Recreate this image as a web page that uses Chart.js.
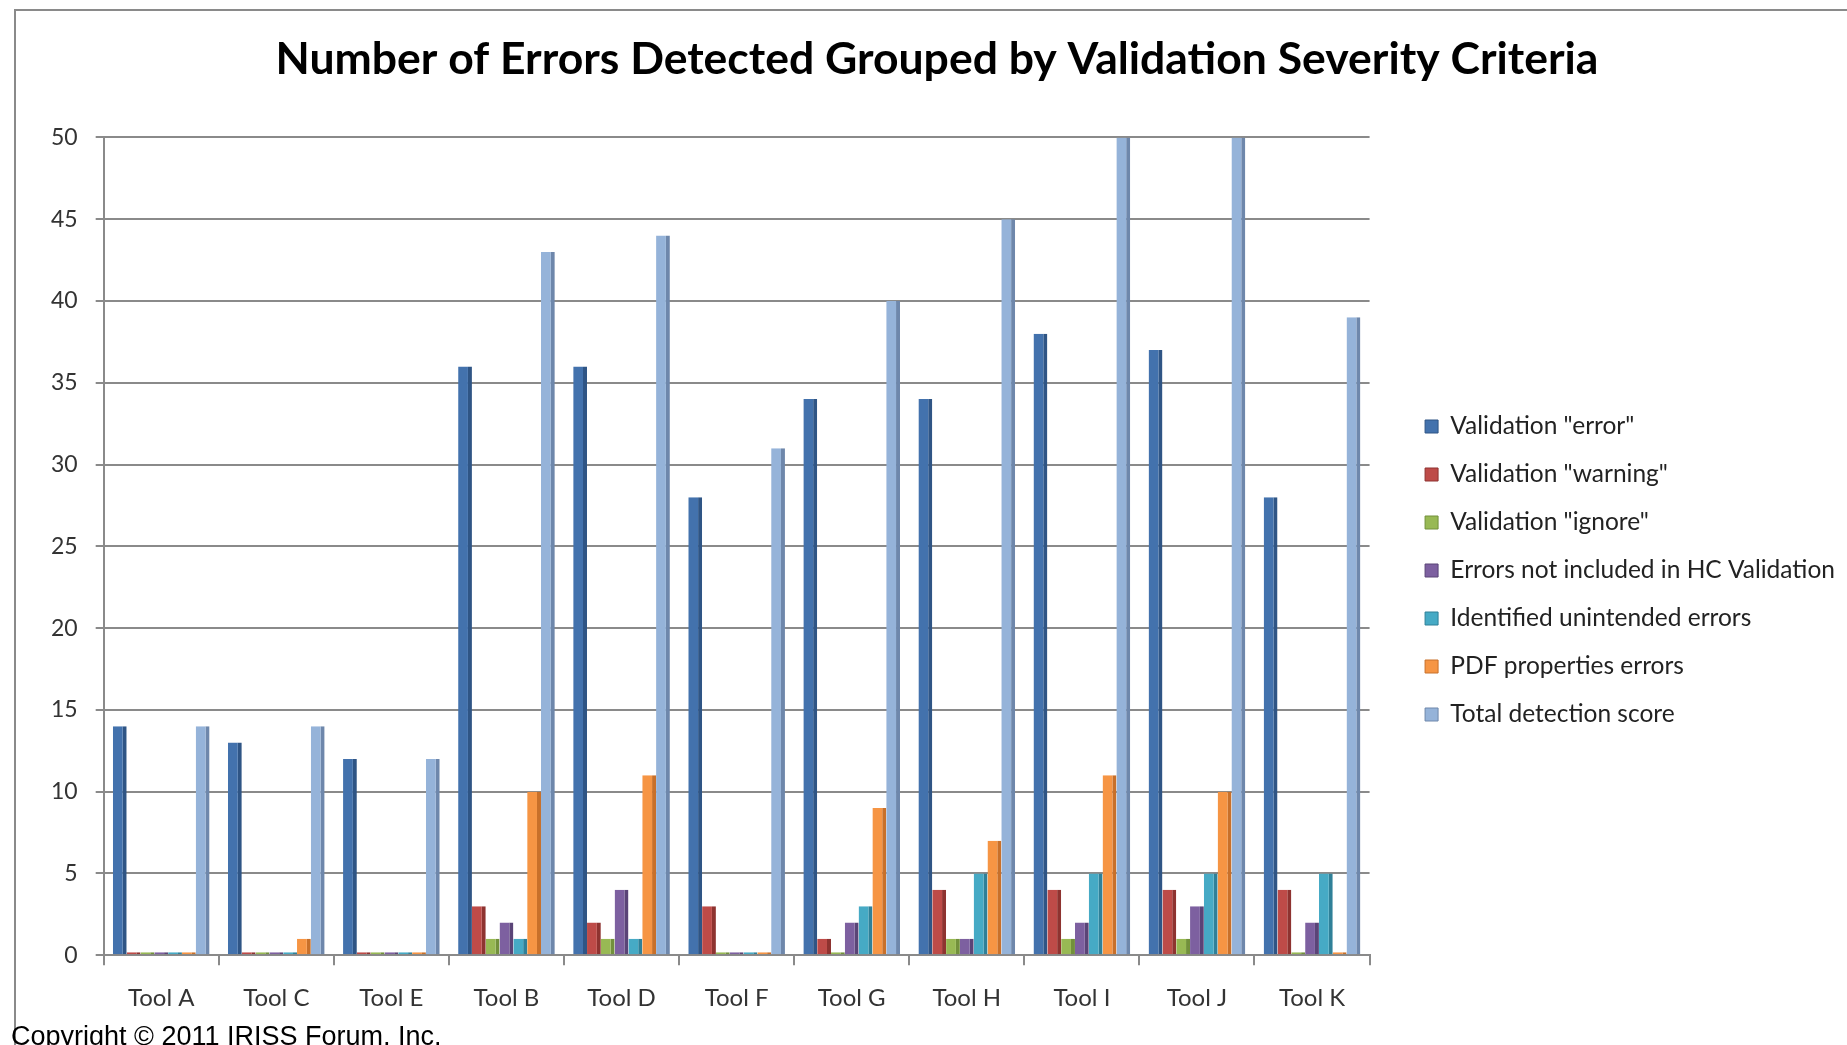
<!DOCTYPE html>
<html>
    <head>
        <meta charset="utf-8">
        <script src="https://cdn.jsdelivr.net/npm/chart.js@4.4.1/dist/chart.umd.min.js"></script>
        <title>Errors by validation severity</title>
        <style>
            body { margin:0; background:#fff; width:1847px; height:1045px; overflow:hidden; }
            #frame { position:absolute; left:14px; top:9px; width:1840px; height:1040px;
                     border-left:2px solid #8a8a8a; border-top:2px solid #8a8a8a; }
            #chart_container { position:absolute; left:0; top:0; width:1831px; height:1034px; }
            #copyright { position:absolute; left:11px; top:1023px; font-family:"Liberation Sans", Arial, sans-serif;
                         font-size:27px; line-height:27px; color:#000; white-space:nowrap; }
        </style>
    </head>
    <body>
        <div id="frame">
            <div id="chart_container">
                <canvas id="errors_chart"></canvas>
            </div>
        </div>
        <div id="copyright">Copyright © 2011 IRISS Forum, Inc.</div>

        <script type="text/javascript">
            var tools = ["Tool A", "Tool C", "Tool E", "Tool B", "Tool D", "Tool F", "Tool G", "Tool H", "Tool I", "Tool J", "Tool K"];
            var validationError   = [14, 13, 12, 36, 36, 28, 34, 34, 38, 37, 28];
            var validationWarning = [0, 0, 0, 3, 2, 3, 1, 4, 4, 4, 4];
            var validationIgnore  = [0, 0, 0, 1, 1, 0, 0, 1, 1, 1, 0];
            var notInHC           = [0, 0, 0, 2, 4, 0, 2, 1, 2, 3, 2];
            var unintendedErrors  = [0, 0, 0, 1, 1, 0, 3, 5, 5, 5, 5];
            var pdfPropErrors     = [0, 1, 0, 10, 11, 0, 9, 7, 11, 10, 0];
            var totalScore        = [14, 14, 12, 43, 44, 31, 40, 45, 50, 50, 39];
            var yTicks = [0, 5, 10, 15, 20, 25, 30, 35, 40, 45, 50];

            // front colour + darker side colour (fake 3d edge)
            function series(label, data, color, side){
                return {
                    label: label,
                    data: data,
                    backgroundColor: color,
                    borderColor: side,
                    borderWidth: { top: 0, left: 0, bottom: 0, right: 4 },
                    borderSkipped: false,
                    minBarLength: 3,
                    categoryPercentage: 0.84,
                    barPercentage: 1.0
                };
            }

            // push the legend and title a bit, like the original
            var layoutNudge = {
                id: "layoutNudge",
                afterLayout: function(chart){
                    var l = chart.legend;
                    l.left += 32; l.right += 32;
                    l.top += 49; l.bottom += 49;
                    var t = chart.titleBlock;
                    t.left += 14; t.right += 14;
                }
            };

            var ctx = document.getElementById("errors_chart");
            var errors_chart = new Chart(ctx, {
                type: "bar",
                data: {
                    labels: tools,
                    datasets: [
                        series('Validation "error"', validationError, "#4372ad", "#2f5585"),
                        series('Validation "warning"', validationWarning, "#be4b48", "#8e3330"),
                        series('Validation "ignore"', validationIgnore, "#98b954", "#72903b"),
                        series("Errors not included in HC Validation", notInHC, "#7d60a0", "#5a4477"),
                        series("Identified unintended errors", unintendedErrors, "#46aac5", "#2f8098"),
                        series("PDF properties errors", pdfPropErrors, "#f69544", "#c8702a"),
                        series("Total detection score", totalScore, "#95b3d9", "#6e87ab")
                    ]
                },
                plugins: [layoutNudge],
                options: {
                    responsive: true,
                    maintainAspectRatio: false,
                    animation: false,
                    layout: { padding: { left: 17, right: 34, top: 0, bottom: 13 } },
                    plugins: {
                        title: {
                            display: true,
                            text: "Number of Errors Detected Grouped by Validation Severity Criteria",
                            color: "#000",
                            font: { family: "Lato", size: 44.5, weight: "bold" },
                            padding: { top: 22, bottom: 51 }
                        },
                        legend: {
                            position: "right",
                            align: "center",
                            labels: {
                                color: "#222",
                                font: { family: "Lato", size: 24.5 },
                                boxWidth: 13,
                                boxHeight: 13,
                                padding: 23.5
                            }
                        },
                        tooltip: { enabled: false }
                    },
                    scales: {
                        x: {
                            grid: { display: true, drawOnChartArea: false, offset: true, color: "#8a8a8a", lineWidth: 2, tickLength: 10 },
                            border: { color: "#8a8a8a", width: 2 },
                            ticks: { color: "#333", font: { family: "Lato", size: 24 }, padding: 19 }
                        },
                        y: {
                            min: 0,
                            max: 50,
                            afterBuildTicks: function(axis){ axis.ticks = yTicks.map(function(v){ return {value: v}; }); },
                            grid: { color: "#8a8a8a", lineWidth: 2, tickLength: 8 },
                            border: { color: "#8a8a8a", width: 2 },
                            ticks: { color: "#333", font: { family: "Lato", size: 23 }, padding: 18 }
                        }
                    }
                }
            });
        </script>
    </body>
</html>
